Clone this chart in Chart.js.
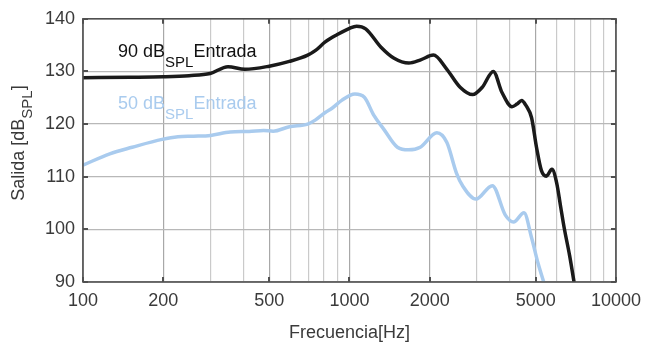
<!DOCTYPE html>
<html lang="es">
  <head>
    <meta charset="utf-8">
    <title>Salida vs Frecuencia</title>
    <script src="https://cdn.jsdelivr.net/npm/chart.js@4"></script>
    <style>
      html, body { margin: 0; padding: 0; background: #fff; }
      #wrap { width: 649px; height: 345px; }
    </style>
  </head>
  <body>
    <div id="wrap"><canvas id="myChart" width="649" height="345"></canvas></div>
    <script>
      // curva 90 dB SPL de entrada
      var freq90 = [100, 150, 200, 250, 300, 350, 405, 500, 595, 697, 746, 811, 900, 1000, 1063, 1150,
                    1313, 1470, 1670, 1850, 2065, 2320, 2601, 2898, 3150, 3464, 3735, 4071, 4250, 4427,
                    4600, 4823, 5032, 5248, 5478, 5749, 5992, 6200, 6397, 6700, 6961];
      var sal90 = [128.8, 128.9, 129.0, 129.2, 129.6, 130.9, 130.4, 131.0, 131.9, 133.1, 134.0, 135.6, 137.0, 138.2, 138.6, 138.1,
                   134.6, 132.5, 131.6, 132.2, 133.1, 130.4, 127.0, 125.6, 127.0, 130.0, 126.0, 123.3, 123.8, 124.5,
                   123.5, 121.2, 115.6, 111.2, 110.1, 111.4, 108.8, 104.3, 100.2, 95.0, 90.0];

      // curva 50 dB SPL de entrada
      var freq50 = [100, 126, 153, 198, 227, 260, 301, 357, 420, 476, 517, 595, 697, 746, 811, 860, 935, 1048, 1137,
                    1233, 1346, 1513, 1667, 1843, 2128, 2320, 2520, 2664, 2982, 3435, 3845, 4128, 4518, 4823,
                    5107, 5355];
      var sal50 = [112.2, 114.35, 115.6, 117.1, 117.6, 117.7, 117.85, 118.5, 118.6, 118.8, 118.65, 119.5, 120.0, 120.8, 122.2, 123.0, 124.5, 125.7, 125.1,
                   121.7, 119.0, 115.6, 115.1, 115.6, 118.35, 116.5, 110.7, 108.2, 105.75, 108.3, 102.7, 101.4, 103.15, 98.4,
                   93.45, 90.0];

      var xTicksAll = [100, 200, 300, 400, 500, 600, 700, 800, 900, 1000, 2000, 3000, 4000, 5000,
                       6000, 7000, 8000, 9000, 10000];
      var xTickLabels = [100, 200, 500, 1000, 2000, 5000, 10000];
      var yTicks = [90, 100, 110, 120, 130, 140];

      function toPts(xs, ys) {
        var out = [];
        for (var i = 0; i < xs.length; i++) out.push({x: xs[i], y: ys[i]});
        return out;
      }

      var FONT = '"Liberation Sans", Arial, Helvetica, sans-serif';
      var AXIS_COL = '#505050';
      var TEXT_COL = '#3a3a3a';
      var BLACK = '#1a1a1a';
      var BLUE = '#a9cbee';

      // texto con subindice: [normal, sub, normal]
      function drawSubText(ctx, x, y, parts, size, subSize, color, subDrop) {
        ctx.fillStyle = color;
        ctx.textBaseline = 'alphabetic';
        ctx.textAlign = 'left';
        var cx = x;
        ctx.font = size + 'px ' + FONT;
        ctx.fillText(parts[0], cx, y); cx += ctx.measureText(parts[0]).width;
        ctx.font = subSize + 'px ' + FONT;
        ctx.fillText(parts[1], cx, y + subDrop); cx += ctx.measureText(parts[1]).width;
        ctx.font = size + 'px ' + FONT;
        ctx.fillText(parts[2], cx, y);
      }
      function subWidth(ctx, parts, size, subSize) {
        ctx.font = size + 'px ' + FONT;
        var w = ctx.measureText(parts[0]).width + ctx.measureText(parts[2]).width;
        ctx.font = subSize + 'px ' + FONT;
        return w + ctx.measureText(parts[1]).width;
      }

      var decoPlugin = {
        id: 'deco',
        afterDraw: function(chart) {
          var ctx = chart.ctx;
          var a = chart.chartArea;
          var xs = chart.scales.x, ys = chart.scales.y;
          ctx.save();
          // caja
          ctx.strokeStyle = AXIS_COL;
          ctx.lineWidth = 1.6;
          ctx.strokeRect(a.left, a.top, a.right - a.left, a.bottom - a.top);
          // marcas hacia dentro
          ctx.lineWidth = 2;
          ctx.beginPath();
          xTickLabels.forEach(function(v) {
            var px = Math.round(xs.getPixelForValue(v));
            ctx.moveTo(px, a.bottom); ctx.lineTo(px, a.bottom - 5);
            ctx.moveTo(px, a.top); ctx.lineTo(px, a.top + 5);
          });
          yTicks.forEach(function(v) {
            var py = Math.round(ys.getPixelForValue(v));
            ctx.moveTo(a.left, py); ctx.lineTo(a.left + 5, py);
            ctx.moveTo(a.right, py); ctx.lineTo(a.right - 5, py);
          });
          ctx.stroke();

          // etiquetas de las curvas
          drawSubText(ctx, 118, 57, ['90 dB', 'SPL', 'Entrada'], 18, 15, '#111', 10);
          drawSubText(ctx, 118, 108.5, ['50 dB', 'SPL', 'Entrada'], 18, 15, BLUE, 10);

          // titulo eje x
          ctx.fillStyle = TEXT_COL;
          ctx.font = '18px ' + FONT;
          ctx.textAlign = 'center';
          ctx.textBaseline = 'alphabetic';
          ctx.fillText('Frecuencia[Hz]', (a.left + a.right) / 2, 338);

          // titulo eje y
          var parts = ['Salida [dB', 'SPL', ']'];
          var w = subWidth(ctx, parts, 18, 15);
          ctx.translate(24, 143);
          ctx.rotate(-Math.PI / 2);
          drawSubText(ctx, -w / 2, 0, parts, 18, 15, TEXT_COL, 8);
          ctx.restore();
        }
      };

      var ctx = document.getElementById('myChart').getContext('2d');
      var myChart = new Chart(ctx, {
        type: 'line',
        data: {
          datasets: [{
            label: '90 dB SPL Entrada',
            data: toPts(freq90, sal90),
            borderColor: BLACK,
            borderWidth: 3.5,
            pointRadius: 0,
            cubicInterpolationMode: 'monotone',
            fill: false
          }, {
            label: '50 dB SPL Entrada',
            data: toPts(freq50, sal50),
            borderColor: BLUE,
            borderWidth: 3.5,
            pointRadius: 0,
            cubicInterpolationMode: 'monotone',
            fill: false
          }]
        },
        options: {
          responsive: false,
          animation: false,
          layout: { padding: { left: 0, top: 11, right: 23, bottom: 0 } },
          plugins: {
            legend: { display: false },
            tooltip: { enabled: false }
          },
          scales: {
            x: {
              type: 'logarithmic',
              min: 100,
              max: 10000,
              afterBuildTicks: function(scale) {
                scale.ticks = xTicksAll.map(function(v) { return {value: v}; });
              },
              afterFit: function(scale) { scale.height = 63; },
              border: { display: false },
              grid: {
                drawTicks: false,
                lineWidth: 1.2,
                color: function(c) {
                  var v = c.tick && c.tick.value;
                  return xTickLabels.indexOf(v) >= 0 ? '#a8a8a8' : '#cacaca';
                }
              },
              ticks: {
                autoSkip: false,
                maxRotation: 0,
                padding: 8,
                color: TEXT_COL,
                font: { size: 18, family: FONT },
                callback: function(v) {
                  return xTickLabels.indexOf(v) >= 0 ? String(v) : '';
                }
              }
            },
            y: {
              min: 90,
              max: 140,
              afterFit: function(scale) { scale.width = 83; },
              border: { display: false },
              grid: { drawTicks: false, color: '#b8b8b8', lineWidth: 1.2 },
              ticks: {
                stepSize: 10,
                padding: 8,
                color: TEXT_COL,
                font: { size: 18, family: FONT }
              }
            }
          }
        },
        plugins: [decoPlugin]
      });
    </script>
  </body>
</html>
